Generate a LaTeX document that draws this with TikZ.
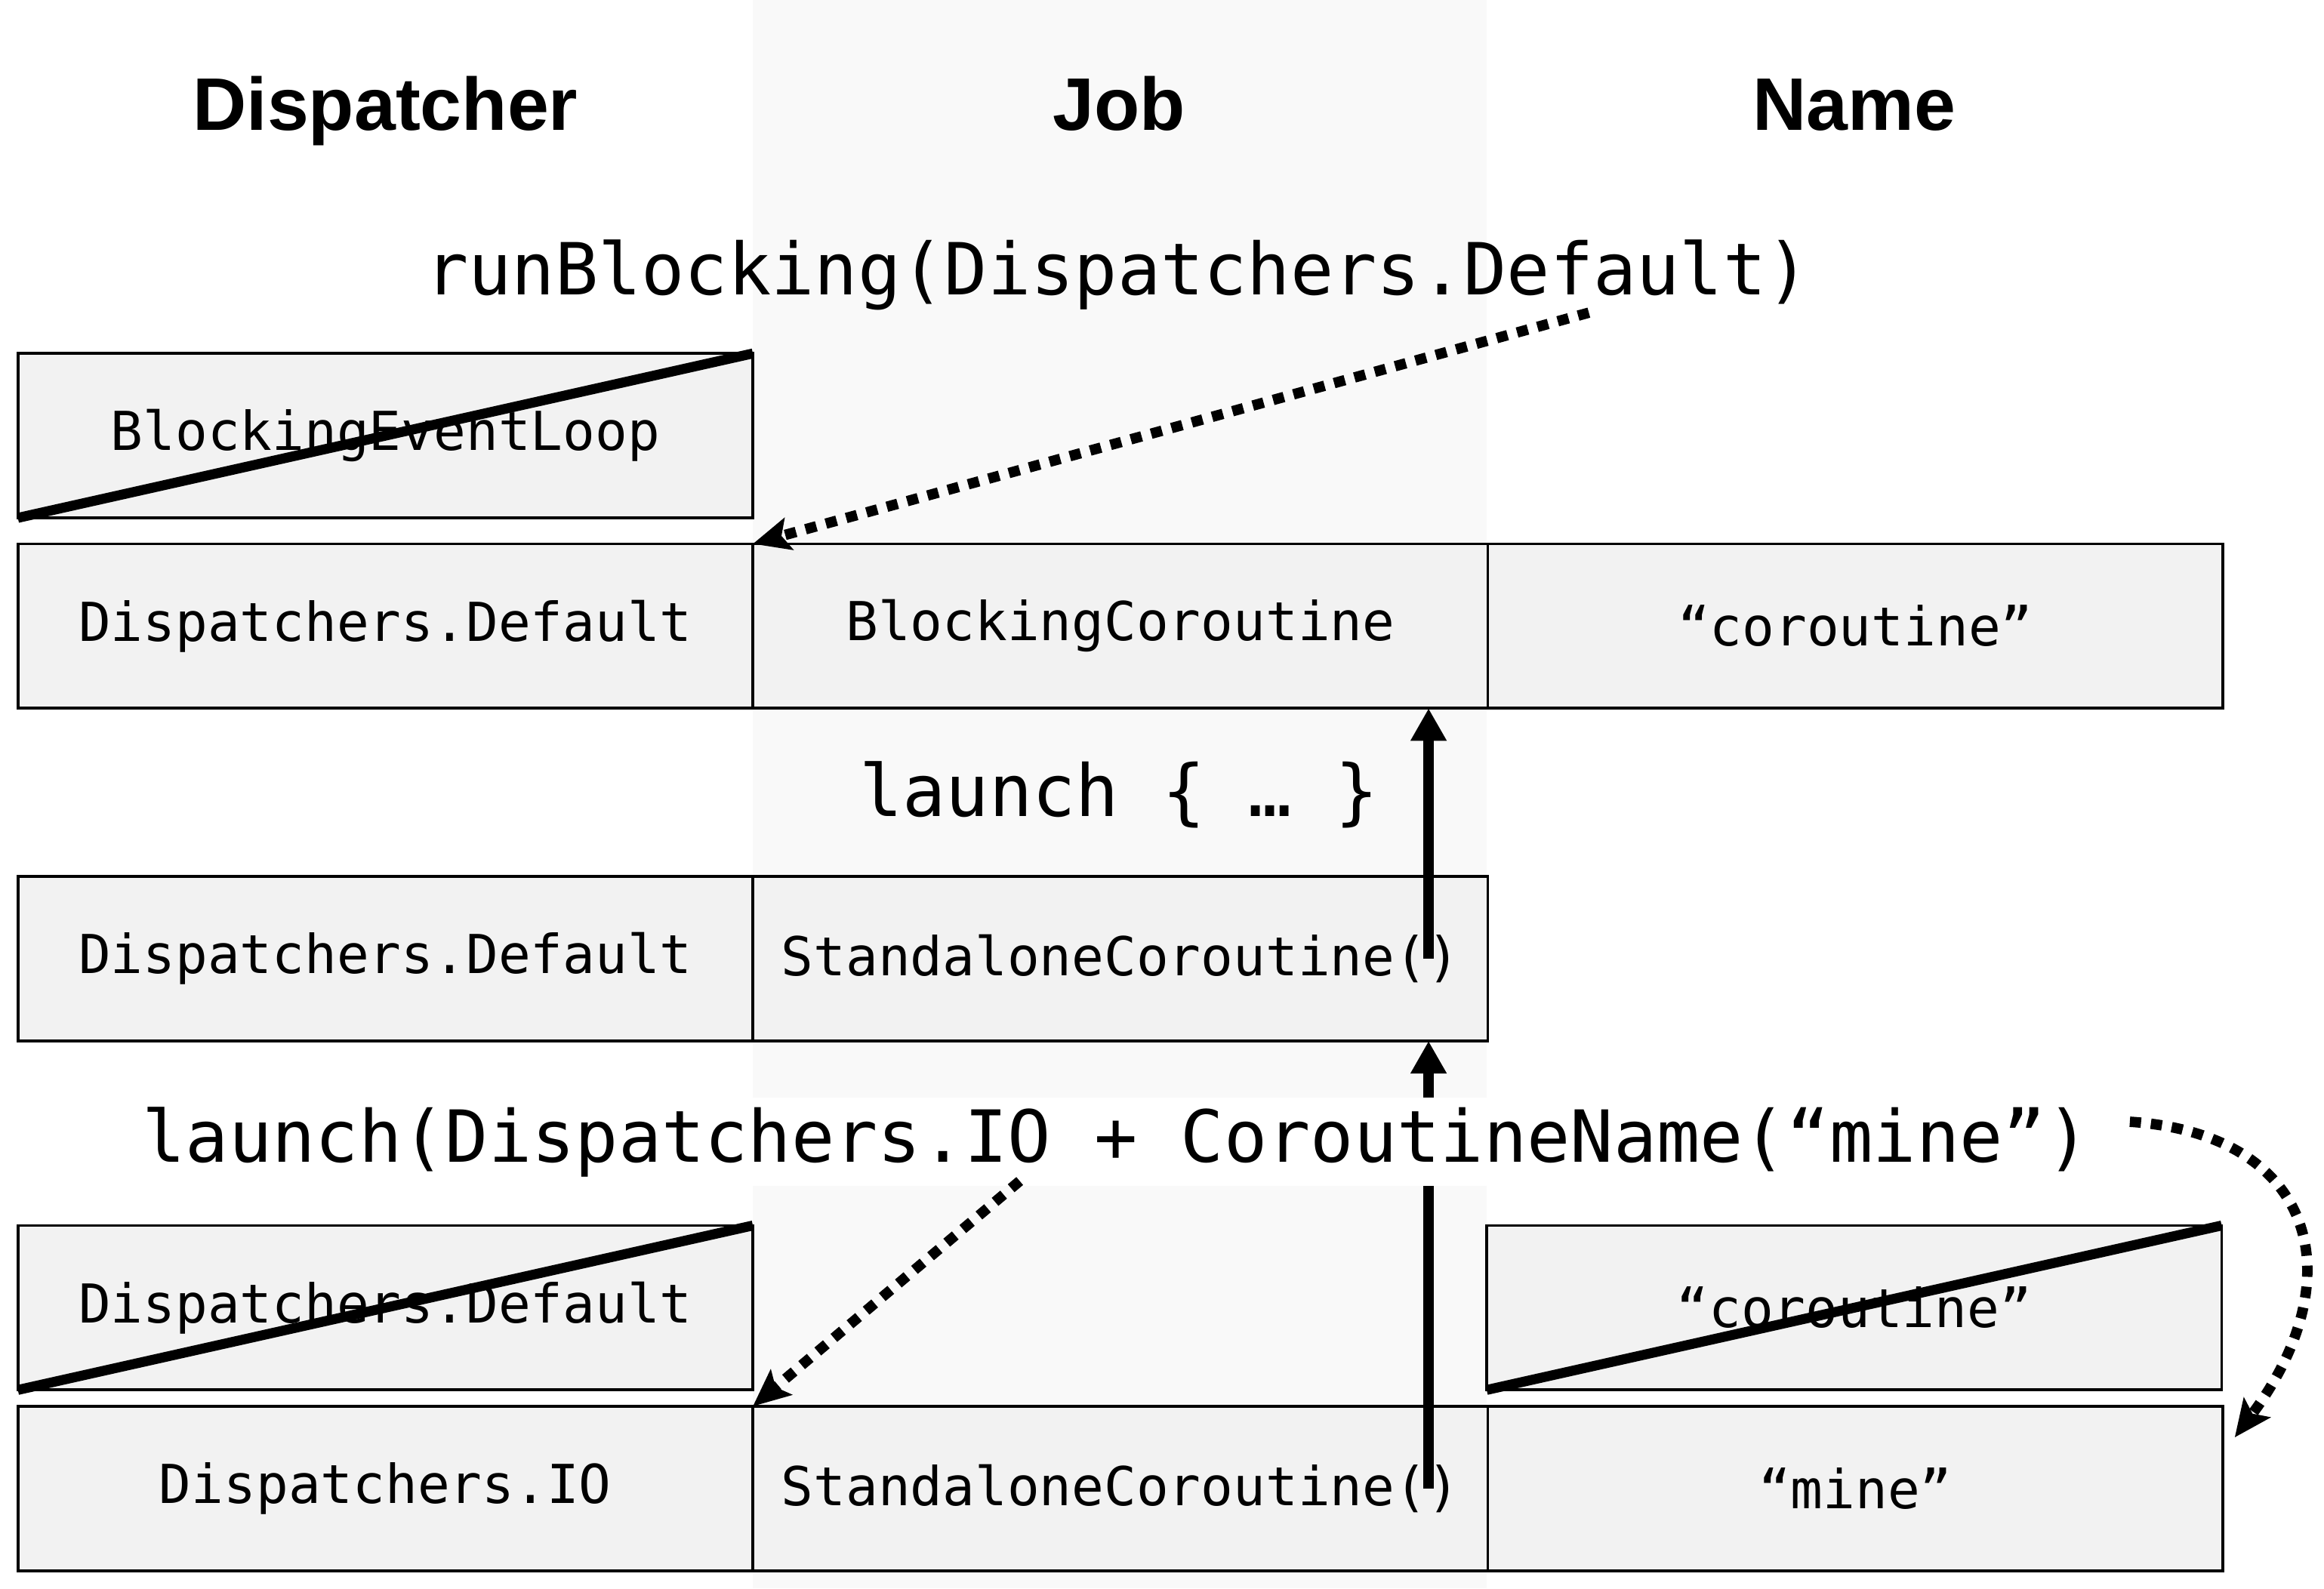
\documentclass[tikz,border=0pt]{standalone}
\usepackage{fontspec}
\setmainfont{Liberation Sans}
\newfontfamily\codefont{DejaVu Sans Mono}
\usetikzlibrary{positioning,calc,arrows.meta}
\definecolor{cellgray}{HTML}{F2F2F2}
\definecolor{jobgray}{HTML}{F9F9F9}

\begin{document}
\begin{tikzpicture}[x=0.02cm, y=-0.02cm]

        \tikzstyle{cell} = [rectangle, minimum width=9.92cm, minimum height=2.22cm, inner sep=0pt, outer sep=0pt, text centered, draw=black, line width=1.1pt, fill=cellgray, font=\codefont\fontsize{20.6}{24}\selectfont]
        \tikzstyle{heading} = [anchor=base, inner sep=0pt, font=\bfseries\fontsize{28.6}{34}\selectfont]
        \tikzstyle{call} = [anchor=base, inner sep=0pt, font=\codefont\fontsize{27.6}{32}\selectfont]
        \tikzstyle{strike} = [line width=3.8pt]
        \tikzstyle{arrow} = [line width=4pt, -{Triangle[length=0.44cm, width=0.46cm]}]
        \tikzstyle{dotarrow} = [line width=4pt, dash pattern=on 4.3pt off 3.8pt, -{Stealth[length=0.5cm, width=0.44cm, inset=0.1cm]}]

        \useasboundingbox (0,0) rectangle (1568,1072);
        \fill [jobgray] (508,0) rectangle (1003,1072);

        % Headings
        \node (hdisp) [heading] at (260,88) {Dispatcher};
        \node (hjob) [heading] at (755,88) {Job};
        \node (hname) [heading] at (1251,88) {Name};

        % Contexts
        \node (loop) [cell] at (260,294) {BlockingEventLoop};
        \node (disp1) [cell] at (260,422.5) {Dispatchers.Default};
        \node (job1) [cell, right=0pt of disp1] {BlockingCoroutine};
        \node (name1) [cell, right=0pt of job1] {“coroutine”};
        \node (disp2) [cell] at (260,647) {Dispatchers.Default};
        \node (job2) [cell, right=0pt of disp2] {StandaloneCoroutine()};
        \node (olddisp) [cell] at (260,882.5) {Dispatchers.Default};
        \node (oldname) [cell] at (1251,882.5) {“coroutine”};
        \node (disp3) [cell] at (260,1004.5) {Dispatchers.IO};
        \node (job3) [cell, right=0pt of disp3] {StandaloneCoroutine()};
        \node (name3) [cell, right=0pt of job3] {“mine”};

        \draw [strike] (loop.south west) -- (loop.north east);
        \draw [strike] (olddisp.south west) -- (olddisp.north east);
        \draw [strike] (oldname.south west) -- (oldname.north east);

        % Parent arrows
        \coordinate (job2src) at ($(job2.east)+(-40,0)$);
        \coordinate (job3src) at ($(job3.east)+(-40,0)$);
        \draw [arrow] (job2src) -- (job2src |- job1.south);
        \draw [arrow] (job3src) -- (job3src |- job2.south);

        % Builders
        \node (runlbl) [call] at (754,199) {runBlocking(Dispatchers.Default)};
        \node (launchlbl) [call] at (755,551) {launch \{ … \}};
        \node (iolbl) [call, fill=white, inner ysep=0.12cm] at (753,784) {launch(Dispatchers.IO + CoroutineName(“mine”)};

        % Overrides
        \coordinate (runfrom) at (1072,211);
        \coordinate (iofrom) at (688,797);
        \coordinate (namefrom) at (1437,757);
        \coordinate (nameto) at ($(name3.north east)+(8,21)$);
        \draw [dotarrow] (runfrom) -- (job1.north west);
        \draw [dotarrow] (iofrom) -- (job3.north west);
        \draw [dotarrow] (namefrom) .. controls (1560,765) and (1590,860) .. (nameto);

    \end{tikzpicture}
\end{document}
